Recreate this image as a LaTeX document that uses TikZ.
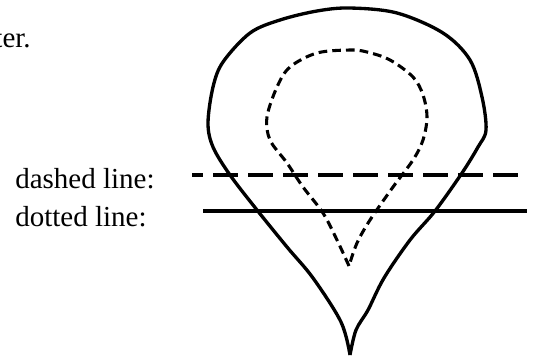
\documentclass[tikz,border=0pt]{standalone}
\usepackage{fontspec}
\setmainfont{Liberation Serif}
\begin{document}
\begin{tikzpicture}[x=0.75pt,y=-0.75pt,
  lbl/.style={inner sep=0pt,font=\fontsize{21.75}{26}\selectfont},
  outer/.style={line width=2.5pt,line join=round},
  inner/.style={line width=2.3pt,dash pattern=on 6.5pt off 3.8pt},
  hdash/.style={line width=3pt,dash pattern=on 18.75pt off 7.5pt,dash phase=10.5pt},
  hsolid/.style={line width=3pt}]
\clip (0,0) rectangle (535,358);
\node[lbl,anchor=base east] (ter) at (31,47) {ter.};
\node[lbl,anchor=base west] (dl) at (15,188) {dashed line:};
\node[lbl,anchor=base west] (ol) at (15,226) {dotted line:};
\coordinate (d1) at (192,175);
\coordinate (d2) at (526,175);
\coordinate (s1) at (203,210.5);
\coordinate (s2) at (527,210.5);
\draw[hdash] (d1) -- (d2);
\draw[hsolid] (s1) -- (s2);
% outer drop
\draw[outer] plot[smooth,tension=0.55] coordinates {(350,355) (341,322) (313,278) (287,247) (257,210) (230,175) (213,147) (208,123) (213,87) (223,62) (250,33) (280,20) (317,11) (350,8) (397,13) (443,33) (470,60) (482,97) (486,130) (478,147) (462,173) (435,211) (410,240) (384,278) (368,310) (356,330) (350,355)};
% inner dashed drop
\draw[inner] plot[smooth,tension=0.55] coordinates {(349,266) (337,240) (323,213) (303,187) (287,163) (270,140) (267,117) (277,87) (290,67) (317,53) (350,50) (367,52) (390,60) (413,77) (423,95) (427,117) (423,140) (413,160) (393,187) (370,220) (357,243) (349,266)};
\end{tikzpicture}
\end{document}
